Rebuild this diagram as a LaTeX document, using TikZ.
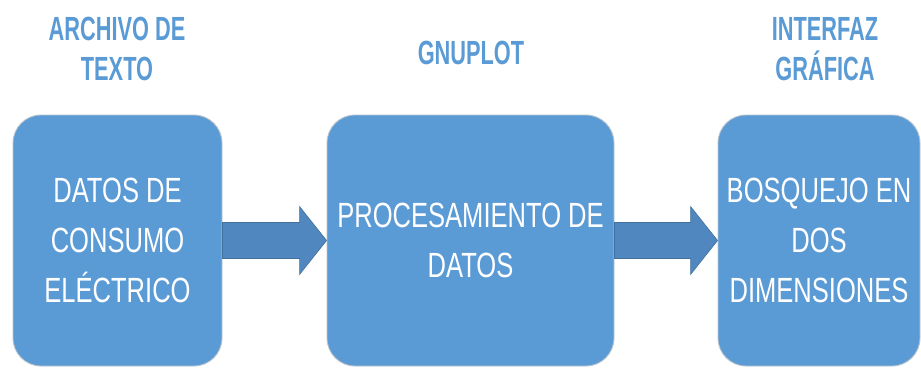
\documentclass[tikz,border=0pt]{standalone}
\usepackage{fontspec}
\newfontfamily\boxfont{Liberation Sans}[FakeStretch=0.73]
\newfontfamily\headfont{Liberation Sans}[FakeStretch=0.65]
\definecolor{boxblue}{HTML}{5B9BD5}
\definecolor{boxedge}{HTML}{B9C3CC}
\definecolor{arrowfill}{HTML}{4F87BE}
\definecolor{arrowedge}{HTML}{41719C}
\definecolor{headblue}{HTML}{5B9BD5}
\tikzset{
  blockbox/.style={draw=boxedge, line width=0.9pt, fill=boxblue, rounded corners=28pt,
    minimum height=251pt, inner sep=0pt, align=center, text=white,
    font=\boxfont\fontsize{35}{50}\selectfont},
  heading/.style={text=headblue, align=center, inner sep=0pt,
    font=\headfont\bfseries\fontsize{33.5}{40}\selectfont},
  blockarrow/.style={fill=arrowfill, draw=arrowedge, line width=0.6pt, line join=miter}
}
\begin{document}
\begin{tikzpicture}[x=1pt,y=-1pt]
\useasboundingbox (0,0) rectangle (921,367);
\node[blockbox, minimum width=209pt] (b1) at (117.5,240.5) {DATOS DE\\CONSUMO\\ELÉCTRICO};
\node[blockbox, minimum width=287pt] (b2) at (470.5,240.5) {PROCESAMIENTO DE\\DATOS};
\node[blockbox, minimum width=202pt] (b3) at (819,240.5) {BOSQUEJO EN\\DOS\\DIMENSIONES};
\foreach \a/\b in {b1/b2,b2/b3}{
  \draw[blockarrow] ([yshift=18pt]\a.east) -- ([xshift=-27pt,yshift=18pt]\b.west)
    -- ([xshift=-27pt,yshift=34pt]\b.west) -- (\b.west)
    -- ([xshift=-27pt,yshift=-34pt]\b.west) -- ([xshift=-27pt,yshift=-18pt]\b.west)
    -- ([yshift=-18pt]\a.east) -- cycle;
}
\node[heading] (h1) at (117,49) {ARCHIVO DE\\TEXTO};
\node[heading] (h2) at (471,53) {GNUPLOT};
\node[heading] (h3) at (825,49) {INTERFAZ\\GRÁFICA};
\end{tikzpicture}
\end{document}
